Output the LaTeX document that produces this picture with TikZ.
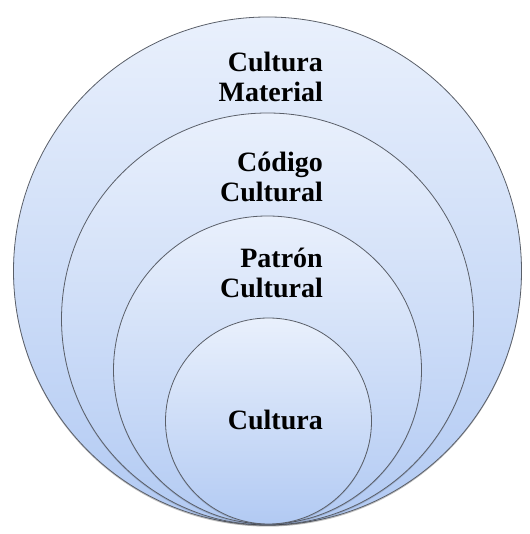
\documentclass[tikz,border=0pt]{standalone}
\usepackage{fontspec}
\setmainfont{Liberation Serif}
\definecolor{ctop}{RGB}{233,240,252}
\definecolor{cbot}{RGB}{178,202,243}
\definecolor{cline}{RGB}{90,95,105}
\tikzset{
  ring/.style={circle, inner sep=0pt, draw=cline, line width=0.8pt, top color=ctop, bottom color=cbot},
  ringshadow/.style={circle, inner sep=0pt, fill=black, opacity=0.25},
  lbl/.style={anchor=base east, inner sep=0pt, font=\fontsize{28}{30}\selectfont\bfseries, text=black}
}
\begin{document}
\begin{tikzpicture}[x=1pt,y=1pt]
\useasboundingbox (0,0) rectangle (529,534);
% shadows
\node[ringshadow, minimum size=508pt] (s1) at (267.5,261.5) {};
% circles
\node[ring, minimum size=508pt] (c1) at (267.5,263) {};
\node[ringshadow, minimum size=412pt, opacity=0.15] (s2) at (267.5,213.5) {};
\node[ring, minimum size=412pt] (c2) at (267.5,215) {};
\node[ringshadow, minimum size=308pt, opacity=0.15] (s3) at (267.5,162.5) {};
\node[ring, minimum size=308pt] (c3) at (267.5,164) {};
\node[ringshadow, minimum size=206pt, opacity=0.15] (s4) at (268.5,111.5) {};
\node[ring, minimum size=206pt] (c4) at (268.5,113) {};
% labels
\node[lbl] (l1a) at (323,462) {Cultura};
\node[lbl] (l1b) at (323,432) {Material};
\node[lbl] (l2a) at (323,362) {Código};
\node[lbl] (l2b) at (323,332) {Cultural};
\node[lbl] (l3a) at (323,266) {Patrón};
\node[lbl] (l3b) at (323,236) {Cultural};
\node[lbl] (l4) at (323,104) {Cultura};
\end{tikzpicture}
\end{document}
